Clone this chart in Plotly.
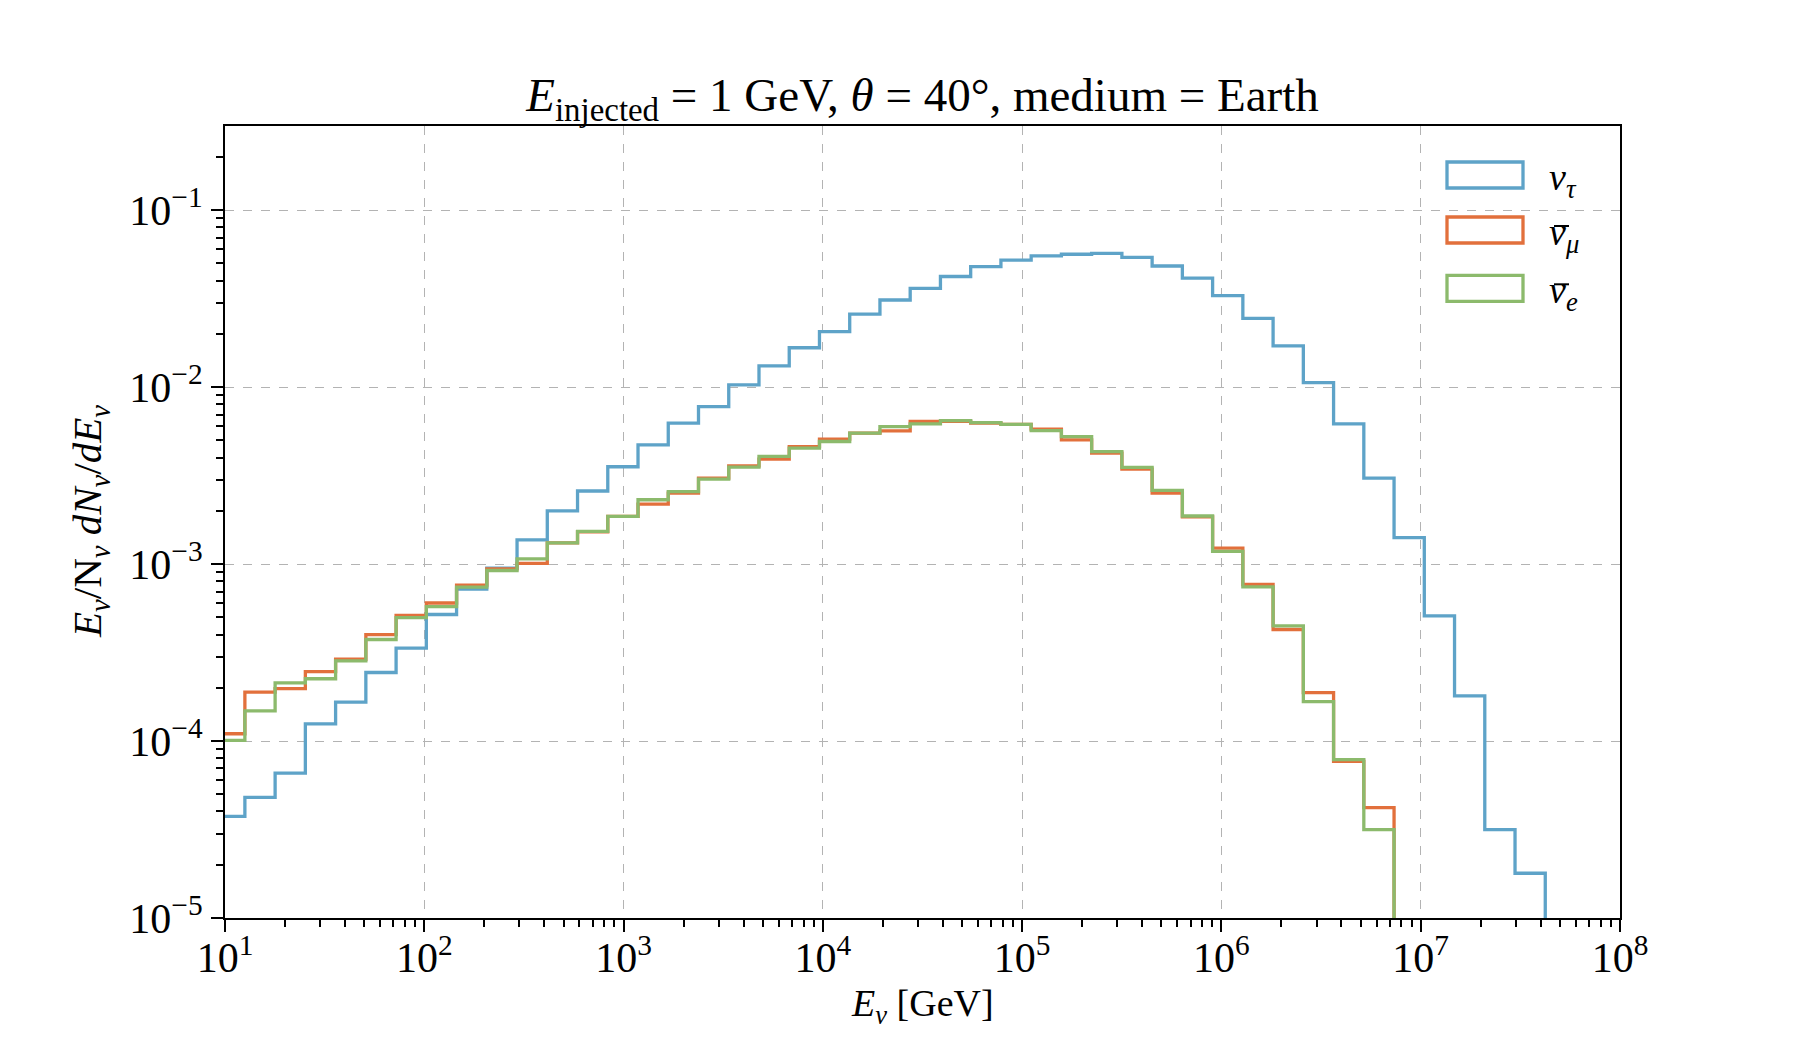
import numpy as np
import plotly.graph_objects as go

# ---- binning (log10 of first lower edge, last upper edge, number of bins) ----
BIN_LOG_START = 0.948
BIN_LOG_STOP = 7.625
N_BINS = 44

# ---- histogram contents (E/N dN/dE per bin) ----
nu_tau = [3.75e-5, 4.80e-5, 6.59e-5, 1.25e-4, 1.66e-4, 2.44e-4, 3.35e-4, 5.19e-4,
          7.22e-4, 9.48e-4, 1.37e-3, 2.00e-3, 2.59e-3, 3.55e-3, 4.72e-3, 6.26e-3,
          7.76e-3, 1.03e-2, 1.32e-2, 1.67e-2, 2.06e-2, 2.59e-2, 3.11e-2, 3.62e-2,
          4.22e-2, 4.80e-2, 5.23e-2, 5.52e-2, 5.64e-2, 5.71e-2, 5.42e-2, 4.84e-2,
          4.13e-2, 3.29e-2, 2.45e-2, 1.71e-2, 1.06e-2, 6.21e-3, 3.06e-3, 1.41e-3,
          5.10e-4, 1.80e-4, 3.16e-5, 1.79e-5]

nubar_mu = [1.10e-4, 1.89e-4, 1.98e-4, 2.47e-4, 2.90e-4, 4.00e-4, 5.13e-4, 6.03e-4,
            7.60e-4, 9.39e-4, 1.01e-3, 1.32e-3, 1.52e-3, 1.86e-3, 2.18e-3, 2.52e-3,
            3.06e-3, 3.59e-3, 3.92e-3, 4.61e-3, 5.08e-3, 5.50e-3, 5.66e-3, 6.40e-3,
            6.40e-3, 6.27e-3, 6.17e-3, 5.79e-3, 5.04e-3, 4.24e-3, 3.44e-3, 2.52e-3,
            1.85e-3, 1.23e-3, 7.67e-4, 4.27e-4, 1.88e-4, 7.67e-5, 4.20e-5]

nubar_e = [1.01e-4, 1.48e-4, 2.13e-4, 2.25e-4, 2.84e-4, 3.75e-4, 4.99e-4, 5.75e-4,
           7.41e-4, 9.20e-4, 1.07e-3, 1.32e-3, 1.53e-3, 1.86e-3, 2.31e-3, 2.57e-3,
           3.02e-3, 3.53e-3, 4.06e-3, 4.52e-3, 4.93e-3, 5.50e-3, 5.98e-3, 6.21e-3,
           6.47e-3, 6.31e-3, 6.17e-3, 5.68e-3, 5.26e-3, 4.32e-3, 3.52e-3, 2.61e-3,
           1.87e-3, 1.18e-3, 7.43e-4, 4.48e-4, 1.67e-4, 7.85e-5, 3.16e-5]

labels = ["<i>ν</i><sub><i>τ</i></sub>", "<i>ν</i><sub><i>μ</i></sub>", "<i>ν</i><sub><i>e</i></sub>"]
has_bar = [False, True, True]
colors = ["#5ea3c8", "#e2703c", "#8cba6c"]

x_tick_exp = [1, 2, 3, 4, 5, 6, 7, 8]
y_tick_exp = [-5, -4, -3, -2, -1]

FONT = "Liberation Serif"
FS = 38
FS_TICK = 42
FS_TITLE = 47

edges = np.logspace(BIN_LOG_START, BIN_LOG_STOP, N_BINS + 1)
YBOT = 1e-9

fig = go.Figure()
for vals, col, lab in zip([nu_tau, nubar_mu, nubar_e], colors, labels):
    n = len(vals)
    xs = [edges[0]] + list(edges[:n + 1]) + [edges[n]]
    ys = [YBOT] + list(vals) + [vals[-1], YBOT]
    fig.add_trace(go.Scatter(x=xs, y=ys, mode="lines", line=dict(shape="hv", color=col, width=3.3),
                             name=lab, showlegend=False, hoverinfo="skip"))

def sup(e):
    s = str(e).replace("-", "−")
    return f"10<sup>{s}</sup>"

minor_x = [m * 10.0 ** k for k in range(1, 8) for m in range(2, 10)]
minor_y = [m * 10.0 ** k for k in range(-5, 0) for m in range(2, 10)]

axis_common = dict(
    type="log", showline=True, linecolor="black", linewidth=2, mirror=True,
    ticks="outside", ticklen=12, tickwidth=1.8, tickcolor="black",
    showgrid=True, gridcolor="#b3b3b3", griddash="dash", gridwidth=1.3,
    zeroline=False, tickfont=dict(family=FONT, size=FS_TICK, color="black"),
)

fig.update_xaxes(**axis_common, range=[1, 8],
                 tickmode="array", tickvals=[10.0 ** e for e in x_tick_exp],
                 ticktext=[sup(e) for e in x_tick_exp], ticklabelstandoff=-10,
                 minor=dict(tickmode="array", tickvals=minor_x, ticks="outside", ticklen=7,
                            tickwidth=1.5, tickcolor="black", showgrid=False))
fig.update_yaxes(**axis_common, range=[-5, -0.524],
                 tickmode="array", tickvals=[10.0 ** e for e in y_tick_exp],
                 ticktext=[sup(e) for e in y_tick_exp],
                 minor=dict(tickmode="array", tickvals=minor_y, ticks="outside", ticklen=7,
                            tickwidth=1.5, tickcolor="black", showgrid=False))

# page has an 8px body margin; figure sized to fill the rest of the window
OFF = 8
W, H = 1792, 1042
L, R, T, B = 217, 180, 118, 132
pw, ph = W - L - R, H - T - B

def px(xpage):
    return (xpage - OFF - L) / pw

def py(ypage):
    return (H - B - (ypage - OFF)) / ph

shapes = []
annotations = []
box_rows = [175, 230, 288.3]
for yc, col, lab, bar in zip(box_rows, colors, labels, has_bar):
    shapes.append(dict(type="rect", xref="paper", yref="paper",
                       x0=px(1447), x1=px(1523), y0=py(yc + 13), y1=py(yc - 13),
                       line=dict(color=col, width=3.3), fillcolor="rgba(0,0,0,0)"))
    annotations.append(dict(xref="paper", yref="paper", x=px(1547), y=py(yc + 5),
                            xanchor="left", yanchor="middle", showarrow=False, text=lab,
                            font=dict(family=FONT, size=FS, color="black")))
    if bar:
        shapes.append(dict(type="line", xref="paper", yref="paper",
                           x0=px(1554), x1=px(1569), y0=py(yc - 4), y1=py(yc - 4),
                           line=dict(color="black", width=2)))

annotations.append(dict(xref="paper", yref="paper", x=0.5, y=py(1006), xanchor="center",
                        yanchor="middle", showarrow=False,
                        text="<i>E</i><sub><i>ν</i></sub> [GeV]",
                        font=dict(family=FONT, size=FS, color="black")))
annotations.append(dict(xref="paper", yref="paper", x=px(90), y=0.5, xanchor="center",
                        yanchor="middle", showarrow=False, textangle=-90,
                        text="<i>E</i><sub><i>ν</i></sub>/N<sub><i>ν</i></sub> <i>dN</i><sub><i>ν</i></sub>/<i>dE</i><sub><i>ν</i></sub>",
                        font=dict(family=FONT, size=41, color="black")))

fig.update_layout(
    width=W, height=H, margin=dict(l=L, r=R, t=T, b=B),
    paper_bgcolor="white", plot_bgcolor="white",
    title=dict(text="<i>E</i><sub>injected</sub> = 1 GeV, <i>θ</i> = 40°, medium = Earth",
               x=0.5, xanchor="center", xref="paper", y=1 - (95 - OFF) / H, yref="container",
               yanchor="middle", font=dict(family=FONT, size=FS_TITLE, color="black")),
    shapes=shapes, annotations=annotations, showlegend=False,
)

fig.write_html("out.html")
